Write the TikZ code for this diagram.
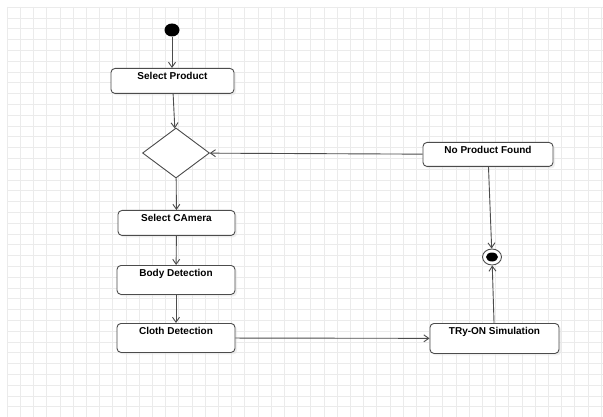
\documentclass[tikz,border=0pt]{standalone}
\usepackage{fontspec}
\setmainfont{Liberation Sans}
\usepackage{tikz}
\usetikzlibrary{positioning,%
  arrows.meta,%
  shapes.geometric,%
  shadows
}

\begin{document}
\begin{tikzpicture}[x=1pt,y=-1pt,
    act/.style={draw=black!70, line width=0.9pt, rounded corners=4pt, fill=white,
      drop shadow={shadow xshift=2pt, shadow yshift=-2pt, fill=black!12},
      font=\bfseries\fontsize{10}{11}\selectfont, inner ysep=4pt,
      text height=7pt, minimum width=#1},
    flow/.style={draw=black!70, line width=0.9pt, -{Straight Barb[length=5pt,width=7pt]}}]
            \useasboundingbox (0,0) rectangle (603,417);
            \fill [white] (0,0) rectangle (603,417);
            % background grid
            \foreach \gx in {0,...,45}
              \draw [black!8, line width=0.5pt] (7+13.2*\gx,7) -- (7+13.2*\gx,417);
            \foreach \gy in {0,...,38}
              \draw [black!8, line width=0.5pt] (7,7+10.8*\gy) -- (603,7+10.8*\gy);

            \node [ellipse, fill=black, minimum width=15pt, minimum height=13pt, inner sep=0pt] (start) at (172,30) {};
            \node [act=123pt, text depth=10pt, anchor=north] (sel) at (172.5,68) {Select Product};
            \node [diamond, draw=black!70, line width=0.9pt, fill=white, minimum width=67pt, minimum height=50pt, inner sep=0pt] (dec) at (176,153) {};
            \node [act=117pt, text depth=10pt, anchor=north] (cam) at (176.5,210) {Select CAmera};
            \node [act=118pt, text depth=14pt, anchor=north] (body) at (176,265) {Body Detection};
            \node [act=118pt, text depth=14pt, anchor=north] (cloth) at (176,323) {Cloth Detection};
            \node [act=129pt, text depth=15pt, anchor=north] (try) at (494.5,323) {TRy-ON Simulation};
            \node [act=130pt, text depth=9pt, anchor=north] (nop) at (488,142) {No Product Found};
            \node [ellipse, draw=black!70, line width=0.9pt, fill=white, minimum width=19pt, minimum height=16pt, inner sep=0pt] (fin) at (492,257) {};
            \node [ellipse, fill=black, minimum width=12pt, minimum height=9pt, inner sep=0pt] (fin-dot) at (fin) {};

            \draw [flow] (start) -- (start |- sel.north);
            \draw [flow] (sel) -- (dec);
            \draw [flow] (dec) -- (cam);
            \draw [flow] (cam) -- (body);
            \draw [flow] (body) -- (cloth);
            \draw [flow] (cloth) -- (try);
            \draw [flow] (try) -- (fin);
            \draw [flow] (nop) -- (fin);
            \draw [flow] (nop) -- (dec);
        \end{tikzpicture}
\end{document}
